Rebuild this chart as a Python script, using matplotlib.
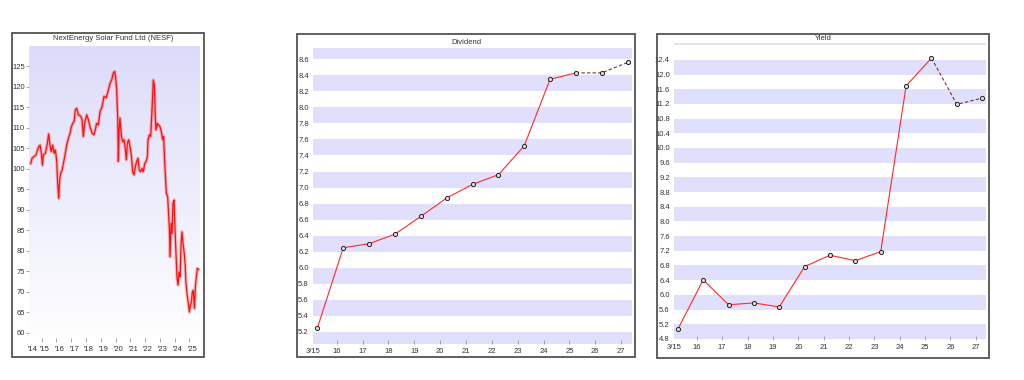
import numpy as np
import matplotlib
matplotlib.use("Agg")
import matplotlib.pyplot as plt
from matplotlib.colors import LinearSegmentedColormap
from matplotlib.patches import Rectangle

plt.rcParams['font.family'] = ['Liberation Sans', 'DejaVu Sans']

# share price, NESF (decimal year, pence)
price_t = [
    2014.26, 2014.35, 2014.48, 2014.62, 2014.71, 2014.80, 2014.89, 2014.98,
    2015.05, 2015.11, 2015.25, 2015.38, 2015.47, 2015.56, 2015.65, 2015.74,
    2015.84, 2015.93, 2016.02, 2016.08, 2016.15, 2016.22, 2016.29, 2016.38,
    2016.47, 2016.58, 2016.69, 2016.81, 2016.92, 2017.01, 2017.10, 2017.19,
    2017.28, 2017.37, 2017.48, 2017.64, 2017.73, 2017.82, 2017.91, 2018.05,
    2018.16, 2018.27, 2018.41, 2018.54, 2018.63, 2018.72, 2018.84, 2018.95,
    2019.09, 2019.22, 2019.36, 2019.49, 2019.63, 2019.74, 2019.85, 2019.94,
    2020.01, 2020.08, 2020.15, 2020.19, 2020.24, 2020.30, 2020.40, 2020.49,
    2020.58, 2020.67, 2020.73, 2020.80, 2020.89, 2020.98, 2021.07, 2021.16,
    2021.25, 2021.34, 2021.43, 2021.52, 2021.61, 2021.70, 2021.79, 2021.88,
    2021.98, 2022.07, 2022.16, 2022.20, 2022.29, 2022.38, 2022.47, 2022.56,
    2022.63, 2022.70, 2022.74, 2022.83, 2022.92, 2023.01, 2023.10, 2023.19,
    2023.26, 2023.31, 2023.37, 2023.44, 2023.53, 2023.60, 2023.65, 2023.69,
    2023.76, 2023.83, 2023.89, 2023.96, 2024.03, 2024.10, 2024.16, 2024.23,
    2024.30, 2024.37, 2024.44, 2024.50, 2024.57, 2024.64, 2024.71, 2024.77,
    2024.84, 2024.93, 2025.00, 2025.07, 2025.14, 2025.20, 2025.27, 2025.34,
    2025.41, 2025.47, 2025.54, 2025.63,
]
price = [
    101.3, 102.6, 103.0, 103.4, 104.6, 105.4, 105.8, 103.8,
    100.9, 103.4, 103.8, 106.2, 108.5, 105.8, 104.2, 105.8,
    103.8, 104.6, 101.8, 96.5, 92.8, 97.3, 98.9, 99.7,
    101.3, 103.4, 105.8, 107.5, 108.7, 110.3, 111.1, 111.5,
    114.4, 114.8, 113.2, 112.9, 112.0, 107.9, 111.1, 113.2,
    112.0, 110.3, 108.7, 108.3, 109.5, 111.1, 110.7, 114.0,
    115.2, 117.7, 117.3, 118.9, 120.9, 121.7, 123.4, 123.8,
    122.1, 119.3, 112.0, 101.8, 109.5, 112.4, 107.9, 106.6,
    107.1, 104.6, 102.2, 106.2, 107.1, 105.4, 103.4, 99.3,
    98.5, 100.5, 101.8, 102.6, 99.7, 99.3, 100.1, 99.3,
    101.3, 101.8, 103.0, 107.1, 108.3, 107.9, 114.4, 121.7,
    120.5, 112.0, 109.5, 111.1, 110.7, 110.3, 109.1, 107.1,
    107.9, 103.0, 98.9, 94.0, 93.2, 88.3, 85.0, 78.5,
    86.7, 84.2, 91.6, 92.4, 85.0, 78.5, 73.6, 71.6,
    74.8, 73.6, 81.8, 84.6, 81.8, 79.7, 76.9, 72.0,
    69.5, 67.1, 65.0, 66.7, 67.5, 69.9, 70.3, 65.9,
    71.2, 73.6, 75.7, 75.4,
]
price_years = list(range(2015, 2026))
price_labels = ["'%02d" % (y % 100) for y in range(2014, 2026)]

# dividend and yield per financial year (March year end)
fy = list(range(2015, 2028))
fy_labels = ['3/15'] + ['%02d' % (y % 100) for y in range(2016, 2028)]
dividend = [5.25, 6.25, 6.30, 6.42, 6.64, 6.87, 7.04, 7.16, 7.52, 8.35,
            8.43, 8.43, 8.56]
div_yield = [5.06, 6.41, 5.73, 5.78, 5.67, 6.77, 7.08, 6.93, 7.18, 11.69,
             12.45, 11.19, 11.36]
n_actual = 11  # values up to FY25 are reported, later ones are forecasts

BAND = '#e0e0fc'
TXT = '#333333'
FS = 5.5

fig = plt.figure(figsize=(10.24, 3.8), dpi=100)


def frame(x0, y0, x1, y1):
    W, H = 1024, 380
    fig.patches.append(Rectangle((x0 / W, 1 - y1 / H), (x1 - x0) / W,
                                 (y1 - y0) / H, transform=fig.transFigure,
                                 fill=False, edgecolor='#444444', lw=1.2))


def axes_px(x0, y0, x1, y1):
    W, H = 1024, 380
    return fig.add_axes([x0 / W, 1 - y1 / H, (x1 - x0) / W, (y1 - y0) / H])


def clean(ax):
    for s in ax.spines.values():
        s.set_visible(False)
    ax.tick_params(labelsize=FS, labelcolor=TXT, colors='#999999')


# ---- price panel
frame(12, 33, 204, 357)
ax1 = axes_px(29, 46, 200, 342)
clean(ax1)
xl = (2014.14, 2025.72)
yl = (57.7, 130.0)
cmap = LinearSegmentedColormap.from_list('bg', ['#ffffff', '#dcdcfa'])
ax1.imshow(np.linspace(0, 1, 256).reshape(-1, 1), cmap=cmap, origin='lower',
           extent=[xl[0], xl[1], yl[0], yl[1]], aspect='auto', zorder=0)
ax1.plot(price_t, price, color='#ff4040', lw=2.4, alpha=0.35, zorder=2)
ax1.plot(price_t, price, color='#ff1010', lw=0.9, zorder=3)
ax1.set_xlim(xl)
ax1.set_ylim(yl)
ax1.set_yticks(range(60, 130, 5))
ax1.tick_params(axis='y', length=2, width=0.6, pad=1)
ax1.set_xticks(price_years)
ax1.set_xticklabels([])
ax1.tick_params(axis='x', direction='in', length=3, width=0.6)
ax1.set_xticks([2020], minor=True)
ax1.tick_params(axis='x', which='minor', direction='in', length=7, width=0.6)
lbl_x = [max(y + 0.2, xl[0] + 0.25) for y in range(2014, 2026)]
for x, s in zip(lbl_x, price_labels):
    ax1.text(x, -0.015, s, transform=ax1.get_xaxis_transform(),
             ha='center', va='top', fontsize=FS, color=TXT)
fig.text(113 / 1024, 1 - 39 / 380, 'NextEnergy Solar Fund Ltd (NESF)',
         ha='center', va='center', fontsize=FS, color=TXT)


def ratio_panel(box, plot, title, title_y, vals, ylim, ticks, band0, step,
                xlim):
    frame(*box)
    ax = axes_px(*plot)
    clean(ax)
    b = band0
    while b < ylim[1]:
        ax.axhspan(b, b + step / 2, color=BAND, lw=0, zorder=0)
        b += step
    x = [y + 0.25 for y in fy]
    ax.plot(x[:n_actual], vals[:n_actual], color='#ff2a2a', lw=0.8, zorder=2)
    ax.plot(x[n_actual - 1:], vals[n_actual - 1:], color='#7a3040', lw=0.8,
            ls=(0, (3, 2)), zorder=2)
    ax.plot(x, vals, ls='none', marker='o', ms=3.0, mfc='#e8d8e0',
            mec='#222222', mew=0.7, zorder=3)
    ax.set_xlim(xlim)
    ax.set_ylim(ylim)
    ax.set_yticks(ticks)
    ax.set_yticklabels(['%.1f' % t for t in ticks])
    ax.tick_params(axis='y', length=0, pad=3)
    ax.set_xticks([xlim[0] + 0.02] + fy[1:])
    ax.set_xticklabels(fy_labels)
    ax.tick_params(axis='x', direction='in', length=3, width=0.6, pad=3)
    ax.get_xticklines()[0].set_visible(False)
    cx = (box[0] + box[2]) / 2
    fig.text(cx / 1024, 1 - title_y / 380, title, ha='center', va='center',
             fontsize=FS, color=TXT)
    return ax


ratio_panel((297, 34, 635, 357), (313, 48, 632, 344), 'Dividend', 42,
            dividend, (5.05, 8.74), list(np.arange(5.2, 8.61, 0.2)), 5.0,
            0.4, (2015.08, 2027.42))
ratio_panel((657, 34, 989, 358), (674, 43, 986, 340), 'Yield', 38,
            div_yield, (4.77, 12.86), list(np.arange(4.8, 12.41, 0.4)), 4.8,
            0.8, (2015.10, 2027.40))

fig.savefig('out.png', dpi=100)
